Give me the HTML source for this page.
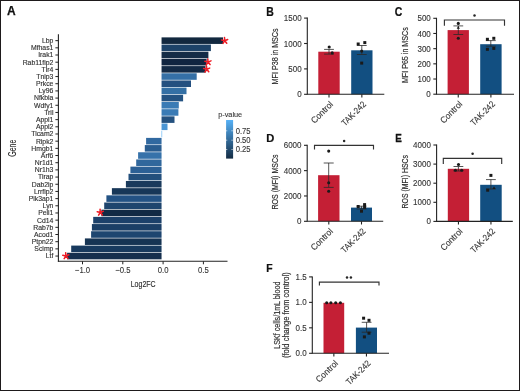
<!DOCTYPE html>
<html><head><meta charset="utf-8"><title>Figure</title>
<style>
html,body{margin:0;padding:0;background:#fff;}
body{width:520px;height:391px;overflow:hidden;}
.fig{position:absolute;left:0;top:0;width:520px;height:391px;box-sizing:border-box;border:1px solid #1e1a1b;background:#fff;}
svg{position:absolute;left:-1px;top:-1px;will-change:transform;}
text{font-family:"Liberation Sans",sans-serif;}
.lbl{font-size:10.6px;font-weight:bold;fill:#111;stroke:#111;stroke-width:0.25px;}
.gl{font-size:6.6px;fill:#2e2e2e;stroke:#2e2e2e;stroke-width:0.12px;text-anchor:end;}
.xl{font-size:8px;fill:#333;stroke:#333;stroke-width:0.1px;}
.xt{font-size:8.8px;fill:#2a2a2a;stroke:#2a2a2a;stroke-width:0.12px;}
.tk{stroke:#222;stroke-width:1.0;}
.ax{stroke:#222;stroke-width:1.1;}
.pax{stroke:#232323;stroke-width:1.1;}
.pl{font-size:9.2px;fill:#333;stroke:#333;stroke-width:0.12px;}
.xtl{font-size:8.9px;fill:#333;stroke:#333;stroke-width:0.12px;}
.pt{font-size:8.2px;fill:#2e2e2e;stroke:#2e2e2e;stroke-width:0.18px;}
.eb line{stroke:#2a2a2a;stroke-width:0.8;}
.brk{stroke:#333;stroke-width:1.15;}
.st{font-size:7.5px;fill:#222;}
</style></head>
<body><div class="fig"><svg width="520" height="391" viewBox="0 0 520 391">
<g id="panelA">
<text x="6.9" y="15.3" class="lbl" style="font-size:12px">A</text>
<rect x="161.55" y="37.38" width="61.45" height="6.55" fill="#12283f"/>
<text transform="translate(53.4,43) scale(1.04,1)" class="gl">Lbp</text>
<line x1="55.4" y1="40.65" x2="58.4" y2="40.65" class="tk"/>
<rect x="161.55" y="44.55" width="49.35" height="6.55" fill="#1d4369"/>
<text transform="translate(53.4,50.18) scale(1.04,1)" class="gl">Mfhas1</text>
<line x1="55.4" y1="47.83" x2="58.4" y2="47.83" class="tk"/>
<rect x="161.55" y="51.73" width="46.85" height="6.55" fill="#142c47"/>
<text transform="translate(53.4,57.36) scale(1.04,1)" class="gl">Irak1</text>
<line x1="55.4" y1="55.01" x2="58.4" y2="55.01" class="tk"/>
<rect x="161.55" y="58.91" width="45.05" height="6.55" fill="#102540"/>
<text transform="translate(53.4,64.54) scale(1.04,1)" class="gl">Rab11fip2</text>
<line x1="55.4" y1="62.19" x2="58.4" y2="62.19" class="tk"/>
<rect x="161.55" y="66.09" width="43.95" height="6.55" fill="#132a45"/>
<text transform="translate(53.4,71.72) scale(1.04,1)" class="gl">Tlr4</text>
<line x1="55.4" y1="69.37" x2="58.4" y2="69.37" class="tk"/>
<rect x="161.55" y="73.27" width="35.15" height="6.55" fill="#3570a6"/>
<text transform="translate(53.4,78.9) scale(1.04,1)" class="gl">Tnip3</text>
<line x1="55.4" y1="76.55" x2="58.4" y2="76.55" class="tk"/>
<rect x="161.55" y="80.45" width="29.45" height="6.55" fill="#235080"/>
<text transform="translate(53.4,86.08) scale(1.04,1)" class="gl">Prkce</text>
<line x1="55.4" y1="83.73" x2="58.4" y2="83.73" class="tk"/>
<rect x="161.55" y="87.63" width="24.95" height="6.55" fill="#3470a5"/>
<text transform="translate(53.4,93.26) scale(1.04,1)" class="gl">Ly96</text>
<line x1="55.4" y1="90.91" x2="58.4" y2="90.91" class="tk"/>
<rect x="161.55" y="94.81" width="21.55" height="6.55" fill="#245382"/>
<text transform="translate(53.4,100.44) scale(1.04,1)" class="gl">Nfkbia</text>
<line x1="55.4" y1="98.09" x2="58.4" y2="98.09" class="tk"/>
<rect x="161.55" y="102" width="17.25" height="6.55" fill="#3a7bb5"/>
<text transform="translate(53.4,107.62) scale(1.04,1)" class="gl">Wdfy1</text>
<line x1="55.4" y1="105.27" x2="58.4" y2="105.27" class="tk"/>
<rect x="161.55" y="109.17" width="16.85" height="6.55" fill="#3a7bb5"/>
<text transform="translate(53.4,114.8) scale(1.04,1)" class="gl">Tril</text>
<line x1="55.4" y1="112.45" x2="58.4" y2="112.45" class="tk"/>
<rect x="161.55" y="116.35" width="12.95" height="6.55" fill="#24517f"/>
<text transform="translate(53.4,121.98) scale(1.04,1)" class="gl">Appl1</text>
<line x1="55.4" y1="119.63" x2="58.4" y2="119.63" class="tk"/>
<rect x="161.55" y="123.53" width="5.95" height="6.55" fill="#4a95d4"/>
<text transform="translate(53.4,129.16) scale(1.04,1)" class="gl">Appl2</text>
<line x1="55.4" y1="126.81" x2="58.4" y2="126.81" class="tk"/>
<rect x="161.55" y="130.72" width="0.6" height="6.55" fill="#56b1f7"/>
<text transform="translate(53.4,136.34) scale(1.04,1)" class="gl">Ticam2</text>
<line x1="55.4" y1="133.99" x2="58.4" y2="133.99" class="tk"/>
<rect x="146.1" y="137.89" width="15.45" height="6.55" fill="#3169a0"/>
<text transform="translate(53.4,143.52) scale(1.04,1)" class="gl">Ripk2</text>
<line x1="55.4" y1="141.17" x2="58.4" y2="141.17" class="tk"/>
<rect x="144.8" y="145.07" width="16.75" height="6.55" fill="#2a5d90"/>
<text transform="translate(53.4,150.7) scale(1.04,1)" class="gl">Hmgb1</text>
<line x1="55.4" y1="148.35" x2="58.4" y2="148.35" class="tk"/>
<rect x="138.1" y="152.25" width="23.45" height="6.55" fill="#3672aa"/>
<text transform="translate(53.4,157.88) scale(1.04,1)" class="gl">Arf6</text>
<line x1="55.4" y1="155.53" x2="58.4" y2="155.53" class="tk"/>
<rect x="136.2" y="159.44" width="25.35" height="6.55" fill="#30679c"/>
<text transform="translate(53.4,165.06) scale(1.04,1)" class="gl">Nr1d1</text>
<line x1="55.4" y1="162.71" x2="58.4" y2="162.71" class="tk"/>
<rect x="130.4" y="166.62" width="31.15" height="6.55" fill="#2c6095"/>
<text transform="translate(53.4,172.24) scale(1.04,1)" class="gl">Nr1h3</text>
<line x1="55.4" y1="169.89" x2="58.4" y2="169.89" class="tk"/>
<rect x="128.5" y="173.79" width="33.05" height="6.55" fill="#234f7c"/>
<text transform="translate(53.4,179.42) scale(1.04,1)" class="gl">Tirap</text>
<line x1="55.4" y1="177.07" x2="58.4" y2="177.07" class="tk"/>
<rect x="125.9" y="180.97" width="35.65" height="6.55" fill="#1a3a5c"/>
<text transform="translate(53.4,186.6) scale(1.04,1)" class="gl">Dab2ip</text>
<line x1="55.4" y1="184.25" x2="58.4" y2="184.25" class="tk"/>
<rect x="111.9" y="188.16" width="49.65" height="6.55" fill="#173758"/>
<text transform="translate(53.4,193.78) scale(1.04,1)" class="gl">Lrrfip2</text>
<line x1="55.4" y1="191.43" x2="58.4" y2="191.43" class="tk"/>
<rect x="106.4" y="195.33" width="55.15" height="6.55" fill="#235284"/>
<text transform="translate(53.4,200.96) scale(1.04,1)" class="gl">Pik3ap1</text>
<line x1="55.4" y1="198.61" x2="58.4" y2="198.61" class="tk"/>
<rect x="104.2" y="202.51" width="57.35" height="6.55" fill="#1e456e"/>
<text transform="translate(53.4,208.14) scale(1.04,1)" class="gl">Lyn</text>
<line x1="55.4" y1="205.79" x2="58.4" y2="205.79" class="tk"/>
<rect x="101.4" y="209.69" width="60.15" height="6.55" fill="#112a45"/>
<text transform="translate(53.4,215.32) scale(1.04,1)" class="gl">Peli1</text>
<line x1="55.4" y1="212.97" x2="58.4" y2="212.97" class="tk"/>
<rect x="93.2" y="216.88" width="68.35" height="6.55" fill="#1c416a"/>
<text transform="translate(53.4,222.5) scale(1.04,1)" class="gl">Cd14</text>
<line x1="55.4" y1="220.15" x2="58.4" y2="220.15" class="tk"/>
<rect x="91.9" y="224.06" width="69.65" height="6.55" fill="#1b3f66"/>
<text transform="translate(53.4,229.68) scale(1.04,1)" class="gl">Rab7b</text>
<line x1="55.4" y1="227.33" x2="58.4" y2="227.33" class="tk"/>
<rect x="91.1" y="231.23" width="70.45" height="6.55" fill="#1e4670"/>
<text transform="translate(53.4,236.86) scale(1.04,1)" class="gl">Acod1</text>
<line x1="55.4" y1="234.51" x2="58.4" y2="234.51" class="tk"/>
<rect x="84.9" y="238.41" width="76.65" height="6.55" fill="#163453"/>
<text transform="translate(53.4,244.04) scale(1.04,1)" class="gl">Ptpn22</text>
<line x1="55.4" y1="241.69" x2="58.4" y2="241.69" class="tk"/>
<rect x="71.2" y="245.59" width="90.35" height="6.55" fill="#183a5e"/>
<text transform="translate(53.4,251.22) scale(1.04,1)" class="gl">Scimp</text>
<line x1="55.4" y1="248.87" x2="58.4" y2="248.87" class="tk"/>
<rect x="67.1" y="252.77" width="94.45" height="6.55" fill="#152f4e"/>
<text transform="translate(53.4,258.4) scale(1.04,1)" class="gl">Ltf</text>
<line x1="55.4" y1="256.05" x2="58.4" y2="256.05" class="tk"/>
<line x1="58.4" y1="34.2" x2="58.4" y2="261.8" class="ax"/>
<line x1="57.9" y1="261.3" x2="227.5" y2="261.3" class="ax"/>
<line x1="82.5" y1="261.3" x2="82.5" y2="264.3" class="tk"/>
<text transform="translate(82.5,273.4) scale(0.87,1)" class="xl" style="font-size:8.9px" text-anchor="middle">−1.0</text>
<line x1="122.8" y1="261.3" x2="122.8" y2="264.3" class="tk"/>
<text transform="translate(122.8,273.4) scale(0.87,1)" class="xl" style="font-size:8.9px" text-anchor="middle">−0.5</text>
<line x1="163.1" y1="261.3" x2="163.1" y2="264.3" class="tk"/>
<text transform="translate(163.1,273.4) scale(0.87,1)" class="xl" style="font-size:8.9px" text-anchor="middle">0.0</text>
<line x1="203.4" y1="261.3" x2="203.4" y2="264.3" class="tk"/>
<text transform="translate(203.4,273.4) scale(0.87,1)" class="xl" style="font-size:8.9px" text-anchor="middle">0.5</text>
<text x="143.2" y="286.7" class="xt" style="font-size:9.6px" text-anchor="middle" textLength="25" lengthAdjust="spacingAndGlyphs">Log2FC</text>
<text transform="translate(15.5,148.2) rotate(-90)" class="xt" style="font-size:10px" text-anchor="middle" textLength="17" lengthAdjust="spacingAndGlyphs">Gene</text>
<path d="M224.7 40.7 L224.48 37.51 M224.7 40.7 L221.6 39.93 M224.7 40.7 L223 43.41 M224.7 40.7 L226.76 43.15 M224.7 40.7 L227.67 39.5" stroke="#ee1c25" stroke-width="1.55" stroke-linecap="round" fill="none"/>
<path d="M208 62.1 L207.78 58.91 M208 62.1 L204.9 61.33 M208 62.1 L206.3 64.81 M208 62.1 L210.06 64.55 M208 62.1 L210.97 60.9" stroke="#ee1c25" stroke-width="1.55" stroke-linecap="round" fill="none"/>
<path d="M206.7 69.3 L206.48 66.11 M206.7 69.3 L203.6 68.53 M206.7 69.3 L205 72.01 M206.7 69.3 L208.76 71.75 M206.7 69.3 L209.67 68.1" stroke="#ee1c25" stroke-width="1.55" stroke-linecap="round" fill="none"/>
<path d="M100.3 212.5 L100.08 209.31 M100.3 212.5 L97.2 211.73 M100.3 212.5 L98.6 215.21 M100.3 212.5 L102.36 214.95 M100.3 212.5 L103.27 211.3" stroke="#ee1c25" stroke-width="1.55" stroke-linecap="round" fill="none"/>
<path d="M65.9 256 L65.68 252.81 M65.9 256 L62.8 255.23 M65.9 256 L64.2 258.71 M65.9 256 L67.96 258.45 M65.9 256 L68.87 254.8" stroke="#ee1c25" stroke-width="1.55" stroke-linecap="round" fill="none"/>
<defs><linearGradient id="cb" x1="0" y1="1" x2="0" y2="0"><stop offset="0" stop-color="#132b43"/><stop offset="1" stop-color="#56b1f7"/></linearGradient></defs>
<rect x="226.1" y="120.0" width="7.0" height="38.6" fill="url(#cb)"/>
<line x1="225.9" y1="130.8" x2="227.3" y2="130.8" stroke="#fff" stroke-width="0.6"/>
<line x1="231.4" y1="130.8" x2="232.8" y2="130.8" stroke="#fff" stroke-width="0.6"/>
<text transform="translate(235.7,133.6) scale(0.88,1)" class="xl" style="font-size:8.7px">0.75</text>
<line x1="225.9" y1="140.2" x2="227.3" y2="140.2" stroke="#fff" stroke-width="0.6"/>
<line x1="231.4" y1="140.2" x2="232.8" y2="140.2" stroke="#fff" stroke-width="0.6"/>
<text transform="translate(235.7,143) scale(0.88,1)" class="xl" style="font-size:8.7px">0.50</text>
<line x1="225.9" y1="149.5" x2="227.3" y2="149.5" stroke="#fff" stroke-width="0.6"/>
<line x1="231.4" y1="149.5" x2="232.8" y2="149.5" stroke="#fff" stroke-width="0.6"/>
<text transform="translate(235.7,152.3) scale(0.88,1)" class="xl" style="font-size:8.7px">0.25</text>
<text x="218.2" y="117" class="xl" textLength="24" lengthAdjust="spacingAndGlyphs">p-value</text>
</g>
<g>
<text transform="translate(266.2,15.5) scale(0.85,1)" class="lbl" style="font-size:12.3px">B</text>
<rect x="318.3" y="51.7" width="21.4" height="42.6" fill="#c41f35"/>
<rect x="351.2" y="50.3" width="21.3" height="44" fill="#124f81"/>
<line x1="307.3" y1="17.6" x2="307.3" y2="94.8" class="pax"/>
<line x1="307.3" y1="94.3" x2="384.3" y2="94.3" class="pax"/>
<line x1="304.1" y1="94.3" x2="307.3" y2="94.3" class="pax"/>
<text transform="translate(301.6,97.35) scale(0.87,1)" class="pl" text-anchor="end">0</text>
<line x1="304.1" y1="68.9" x2="307.3" y2="68.9" class="pax"/>
<text transform="translate(301.6,71.95) scale(0.87,1)" class="pl" text-anchor="end">500</text>
<line x1="304.1" y1="43.5" x2="307.3" y2="43.5" class="pax"/>
<text transform="translate(301.6,46.55) scale(0.87,1)" class="pl" text-anchor="end">1000</text>
<line x1="304.1" y1="18.1" x2="307.3" y2="18.1" class="pax"/>
<text transform="translate(301.6,21.15) scale(0.87,1)" class="pl" text-anchor="end">1500</text>
<line x1="329" y1="94.3" x2="329" y2="97.5" class="pax"/>
<text transform="translate(333.7,104.8) rotate(-45) scale(0.95,1)" class="xtl" text-anchor="end">Control</text>
<line x1="361.85" y1="94.3" x2="361.85" y2="97.5" class="pax"/>
<text transform="translate(366.55,104.8) rotate(-45) scale(0.89,1)" class="xtl" text-anchor="end">TAK-242</text>
<text transform="translate(278.2,56.4) rotate(-90)" class="pt" text-anchor="middle" textLength="56.0" lengthAdjust="spacingAndGlyphs">MFI P38 in MSCs</text>
<g class="eb"><line x1="329" y1="49.4" x2="329" y2="54.1"/><line x1="324.1" y1="49.4" x2="333.9" y2="49.4"/><line x1="324.1" y1="54.1" x2="333.9" y2="54.1"/></g>
<g class="eb"><line x1="361.8" y1="45.5" x2="361.8" y2="54.5"/><line x1="356.9" y1="45.5" x2="366.7" y2="45.5"/><line x1="356.9" y1="54.5" x2="366.7" y2="54.5"/></g>
<circle cx="329.2" cy="47" r="1.55" fill="#1a1a1a"/>
<circle cx="332.2" cy="52.9" r="1.55" fill="#1a1a1a"/>
<rect x="356.7" y="42.5" width="3" height="3" fill="#1a1a1a"/>
<rect x="363.3" y="41.1" width="3" height="3" fill="#1a1a1a"/>
<circle cx="361.7" cy="51.1" r="1.55" fill="#1a1a1a"/>
<rect x="360.2" y="61.6" width="3" height="3" fill="#1a1a1a"/>
</g>
<g>
<text transform="translate(394.8,15.6) scale(0.85,1)" class="lbl" style="font-size:12.3px">C</text>
<rect x="447.6" y="30.1" width="21.3" height="64.1" fill="#c41f35"/>
<rect x="480.2" y="44.2" width="21.4" height="50" fill="#124f81"/>
<line x1="436.5" y1="17.8" x2="436.5" y2="94.7" class="pax"/>
<line x1="436.5" y1="94.2" x2="514" y2="94.2" class="pax"/>
<line x1="433.3" y1="94.2" x2="436.5" y2="94.2" class="pax"/>
<text transform="translate(430.8,97.25) scale(0.87,1)" class="pl" text-anchor="end">0</text>
<line x1="433.3" y1="79.02" x2="436.5" y2="79.02" class="pax"/>
<text transform="translate(430.8,82.07) scale(0.87,1)" class="pl" text-anchor="end">100</text>
<line x1="433.3" y1="63.84" x2="436.5" y2="63.84" class="pax"/>
<text transform="translate(430.8,66.89) scale(0.87,1)" class="pl" text-anchor="end">200</text>
<line x1="433.3" y1="48.66" x2="436.5" y2="48.66" class="pax"/>
<text transform="translate(430.8,51.71) scale(0.87,1)" class="pl" text-anchor="end">300</text>
<line x1="433.3" y1="33.48" x2="436.5" y2="33.48" class="pax"/>
<text transform="translate(430.8,36.53) scale(0.87,1)" class="pl" text-anchor="end">400</text>
<line x1="433.3" y1="18.3" x2="436.5" y2="18.3" class="pax"/>
<text transform="translate(430.8,21.35) scale(0.87,1)" class="pl" text-anchor="end">500</text>
<line x1="458.25" y1="94.2" x2="458.25" y2="97.4" class="pax"/>
<text transform="translate(462.95,104.7) rotate(-45) scale(0.95,1)" class="xtl" text-anchor="end">Control</text>
<line x1="490.9" y1="94.2" x2="490.9" y2="97.4" class="pax"/>
<text transform="translate(495.6,104.7) rotate(-45) scale(0.89,1)" class="xtl" text-anchor="end">TAK-242</text>
<text transform="translate(408.0,55.2) rotate(-90)" class="pt" text-anchor="middle" textLength="55.8" lengthAdjust="spacingAndGlyphs">MFI P65 in MSCs</text>
<g class="eb"><line x1="458.3" y1="25.9" x2="458.3" y2="34.5"/><line x1="453.4" y1="25.9" x2="463.2" y2="25.9"/><line x1="453.4" y1="34.5" x2="463.2" y2="34.5"/></g>
<g class="eb"><line x1="490.8" y1="40.6" x2="490.8" y2="46.2"/><line x1="485.9" y1="40.6" x2="495.7" y2="40.6"/><line x1="485.9" y1="46.2" x2="495.7" y2="46.2"/></g>
<circle cx="458.3" cy="23.4" r="1.55" fill="#1a1a1a"/>
<path d="M458.3 25.9 L459.9 28.8 L456.7 28.8 Z" fill="#1a1a1a"/>
<circle cx="458.3" cy="38.3" r="1.55" fill="#1a1a1a"/>
<rect x="485.9" y="37.8" width="3" height="3" fill="#1a1a1a"/>
<rect x="492.3" y="36.8" width="3" height="3" fill="#1a1a1a"/>
<rect x="485.9" y="47.8" width="3" height="3" fill="#1a1a1a"/>
<rect x="492.3" y="46.9" width="3" height="3" fill="#1a1a1a"/>
<path d="M444.4 25.7 L444.4 20 L504.5 20 L504.5 25.7" fill="none" class="brk"/>
<circle cx="474.5" cy="15.4" r="1.25" fill="#262626"/>
</g>
<g>
<text transform="translate(266.2,141.6) scale(0.97,1)" class="lbl" style="font-size:11.5px">D</text>
<rect x="318.1" y="175.2" width="21.4" height="46.1" fill="#c41f35"/>
<rect x="351" y="207.6" width="21" height="13.7" fill="#124f81"/>
<line x1="307.2" y1="144.8" x2="307.2" y2="221.8" class="pax"/>
<line x1="307.2" y1="221.3" x2="383.2" y2="221.3" class="pax"/>
<line x1="304" y1="221.3" x2="307.2" y2="221.3" class="pax"/>
<text transform="translate(301.5,224.35) scale(0.87,1)" class="pl" text-anchor="end">0</text>
<line x1="304" y1="195.97" x2="307.2" y2="195.97" class="pax"/>
<text transform="translate(301.5,199.02) scale(0.87,1)" class="pl" text-anchor="end">2000</text>
<line x1="304" y1="170.63" x2="307.2" y2="170.63" class="pax"/>
<text transform="translate(301.5,173.68) scale(0.87,1)" class="pl" text-anchor="end">4000</text>
<line x1="304" y1="145.3" x2="307.2" y2="145.3" class="pax"/>
<text transform="translate(301.5,148.35) scale(0.87,1)" class="pl" text-anchor="end">6000</text>
<line x1="328.8" y1="221.3" x2="328.8" y2="224.5" class="pax"/>
<text transform="translate(333.5,231.8) rotate(-45) scale(0.95,1)" class="xtl" text-anchor="end">Control</text>
<line x1="361.5" y1="221.3" x2="361.5" y2="224.5" class="pax"/>
<text transform="translate(366.2,231.8) rotate(-45) scale(0.89,1)" class="xtl" text-anchor="end">TAK-242</text>
<text transform="translate(278.0,182) rotate(-90)" class="pt" text-anchor="middle" textLength="55.2" lengthAdjust="spacingAndGlyphs">ROS (MFI) MSCs</text>
<g class="eb"><line x1="328.7" y1="163" x2="328.7" y2="187.4"/><line x1="323.7" y1="163" x2="333.7" y2="163"/><line x1="323.7" y1="187.4" x2="333.7" y2="187.4"/></g>
<g class="eb"><line x1="361.5" y1="206.2" x2="361.5" y2="209"/><line x1="356.6" y1="206.2" x2="366.4" y2="206.2"/><line x1="356.6" y1="209" x2="366.4" y2="209"/></g>
<circle cx="328.7" cy="151.1" r="1.55" fill="#1a1a1a"/>
<circle cx="328.7" cy="182.8" r="1.55" fill="#1a1a1a"/>
<circle cx="328.7" cy="191.3" r="1.55" fill="#1a1a1a"/>
<rect x="356.7" y="205" width="3" height="3" fill="#1a1a1a"/>
<rect x="363.1" y="203.1" width="3" height="3" fill="#1a1a1a"/>
<rect x="363.1" y="205.8" width="3" height="3" fill="#1a1a1a"/>
<rect x="360" y="209.7" width="3" height="3" fill="#1a1a1a"/>
<path d="M314.5 149.5 L314.5 145.4 L373.5 145.4 L373.5 149.5" fill="none" class="brk"/>
<circle cx="344.1" cy="140.9" r="1.25" fill="#262626"/>
</g>
<g>
<text transform="translate(395.2,141.6) scale(0.86,1)" class="lbl" style="font-size:11.5px">E</text>
<rect x="447.8" y="168.8" width="21.3" height="52.6" fill="#c41f35"/>
<rect x="480.2" y="184.8" width="21.5" height="36.6" fill="#124f81"/>
<line x1="436.6" y1="144.5" x2="436.6" y2="221.9" class="pax"/>
<line x1="436.6" y1="221.4" x2="512.8" y2="221.4" class="pax"/>
<line x1="433.4" y1="221.4" x2="436.6" y2="221.4" class="pax"/>
<text transform="translate(430.9,224.45) scale(0.87,1)" class="pl" text-anchor="end">0</text>
<line x1="433.4" y1="202.3" x2="436.6" y2="202.3" class="pax"/>
<text transform="translate(430.9,205.35) scale(0.87,1)" class="pl" text-anchor="end">1000</text>
<line x1="433.4" y1="183.2" x2="436.6" y2="183.2" class="pax"/>
<text transform="translate(430.9,186.25) scale(0.87,1)" class="pl" text-anchor="end">2000</text>
<line x1="433.4" y1="164.1" x2="436.6" y2="164.1" class="pax"/>
<text transform="translate(430.9,167.15) scale(0.87,1)" class="pl" text-anchor="end">3000</text>
<line x1="433.4" y1="145" x2="436.6" y2="145" class="pax"/>
<text transform="translate(430.9,148.05) scale(0.87,1)" class="pl" text-anchor="end">4000</text>
<line x1="458.45" y1="221.4" x2="458.45" y2="224.6" class="pax"/>
<text transform="translate(463.15,231.9) rotate(-45) scale(0.95,1)" class="xtl" text-anchor="end">Control</text>
<line x1="490.95" y1="221.4" x2="490.95" y2="224.6" class="pax"/>
<text transform="translate(495.65,231.9) rotate(-45) scale(0.89,1)" class="xtl" text-anchor="end">TAK-242</text>
<text transform="translate(408.0,181.7) rotate(-90)" class="pt" text-anchor="middle" textLength="53.4" lengthAdjust="spacingAndGlyphs">ROS (MFI) HSCs</text>
<g class="eb"><line x1="458.4" y1="166.5" x2="458.4" y2="171"/><line x1="453.5" y1="166.5" x2="463.3" y2="166.5"/><line x1="453.5" y1="171" x2="463.3" y2="171"/></g>
<g class="eb"><line x1="490.9" y1="179.6" x2="490.9" y2="189"/><line x1="486" y1="179.6" x2="495.8" y2="179.6"/><line x1="486" y1="189" x2="495.8" y2="189"/></g>
<circle cx="458.5" cy="164.5" r="1.55" fill="#1a1a1a"/>
<circle cx="455.4" cy="170.2" r="1.55" fill="#1a1a1a"/>
<circle cx="461.7" cy="170.2" r="1.55" fill="#1a1a1a"/>
<rect x="489.4" y="173.9" width="3" height="3" fill="#1a1a1a"/>
<rect x="486.2" y="188.7" width="3" height="3" fill="#1a1a1a"/>
<path d="M494 186.2 L495.6 189.1 L492.4 189.1 Z" fill="#1a1a1a"/>
<path d="M443.3 163.9 L443.3 158.3 L501.7 158.3 L501.7 163.9" fill="none" class="brk"/>
<circle cx="472.6" cy="153.8" r="1.25" fill="#262626"/>
</g>
<g>
<text transform="translate(266.2,271.6) scale(0.9,1)" class="lbl" style="font-size:11.5px">F</text>
<rect x="323.5" y="302.8" width="20.7" height="50.5" fill="#c41f35"/>
<rect x="355.9" y="327.6" width="21.1" height="25.7" fill="#124f81"/>
<line x1="312.3" y1="276.4" x2="312.3" y2="353.8" class="pax"/>
<line x1="312.3" y1="353.3" x2="389" y2="353.3" class="pax"/>
<line x1="309.1" y1="353.3" x2="312.3" y2="353.3" class="pax"/>
<text transform="translate(306.6,356.35) scale(0.87,1)" class="pl" text-anchor="end">0.0</text>
<line x1="309.1" y1="327.83" x2="312.3" y2="327.83" class="pax"/>
<text transform="translate(306.6,330.88) scale(0.87,1)" class="pl" text-anchor="end">0.5</text>
<line x1="309.1" y1="302.37" x2="312.3" y2="302.37" class="pax"/>
<text transform="translate(306.6,305.42) scale(0.87,1)" class="pl" text-anchor="end">1.0</text>
<line x1="309.1" y1="276.9" x2="312.3" y2="276.9" class="pax"/>
<text transform="translate(306.6,279.95) scale(0.87,1)" class="pl" text-anchor="end">1.5</text>
<line x1="333.85" y1="353.3" x2="333.85" y2="356.5" class="pax"/>
<text transform="translate(338.55,363.8) rotate(-45) scale(0.95,1)" class="xtl" text-anchor="end">Control</text>
<line x1="366.45" y1="353.3" x2="366.45" y2="356.5" class="pax"/>
<text transform="translate(371.15,363.8) rotate(-45) scale(0.89,1)" class="xtl" text-anchor="end">TAK-242</text>
<text transform="translate(279.9,315.2) rotate(-90)" class="pt" text-anchor="middle" textLength="67.3" lengthAdjust="spacingAndGlyphs">LSKf cells/1mL blood</text>
<text transform="translate(289.3,315.2) rotate(-90)" class="pt" text-anchor="middle" textLength="85.8" lengthAdjust="spacingAndGlyphs">(fold change from control)</text>
<g class="eb"><line x1="333.8" y1="302.8" x2="333.8" y2="302.8"/><line x1="333.8" y1="302.8" x2="333.8" y2="302.8"/><line x1="333.8" y1="302.8" x2="333.8" y2="302.8"/></g>
<g class="eb"><line x1="366.6" y1="322.3" x2="366.6" y2="332.2"/><line x1="361.7" y1="322.3" x2="371.5" y2="322.3"/><line x1="361.7" y1="332.2" x2="371.5" y2="332.2"/></g>
<circle cx="326.7" cy="302.8" r="1.55" fill="#1a1a1a"/>
<circle cx="330.9" cy="302.8" r="1.55" fill="#1a1a1a"/>
<circle cx="335.7" cy="302.8" r="1.55" fill="#1a1a1a"/>
<circle cx="340.4" cy="302.8" r="1.55" fill="#1a1a1a"/>
<rect x="362.1" y="316.7" width="3" height="3" fill="#1a1a1a"/>
<rect x="367.5" y="318.8" width="3" height="3" fill="#1a1a1a"/>
<rect x="367.5" y="331.7" width="3" height="3" fill="#1a1a1a"/>
<rect x="362.9" y="335.4" width="3" height="3" fill="#1a1a1a"/>
<path d="M319.4 285.4 L319.4 282.1 L379 282.1 L379 285.4" fill="none" class="brk"/>
<circle cx="347" cy="277.6" r="1.25" fill="#262626"/>
<circle cx="350.9" cy="277.6" r="1.25" fill="#262626"/>
</g>
</svg></div></body></html>
